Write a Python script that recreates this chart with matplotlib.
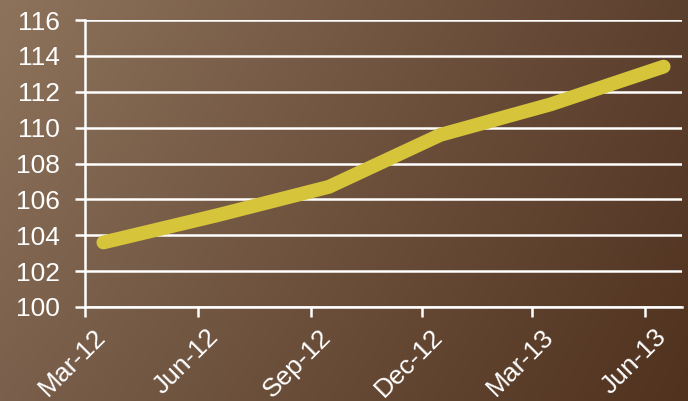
import numpy as np
import matplotlib.pyplot as plt
import matplotlib.dates as mdates
from matplotlib.transforms import ScaledTranslation
from datetime import date

# quarterly index values
dates = [date(2012, 3, 16), date(2012, 6, 16), date(2012, 9, 16),
         date(2012, 12, 16), date(2013, 3, 16), date(2013, 6, 16)]
values = [103.6, 105.1, 106.7, 109.6, 111.3, 113.4]
tick_dates = [date(2012, 3, 1), date(2012, 6, 1), date(2012, 9, 1),
              date(2012, 12, 1), date(2013, 3, 1), date(2013, 6, 1)]

plt.rcParams['font.family'] = ['Liberation Sans', 'DejaVu Sans']

fig = plt.figure(figsize=(6.88, 4.01), dpi=100)

# background gradient (bilinear between the four corners)
tl = np.array([142, 115, 92]) / 255
tr = np.array([92, 64, 46]) / 255
bl = np.array([122, 96, 76]) / 255
br = np.array([80, 50, 30]) / 255
u = np.linspace(0, 1, 200)[None, :, None]
v = np.linspace(0, 1, 120)[:, None, None]
grad = (1 - v) * ((1 - u) * tl + u * tr) + v * ((1 - u) * bl + u * br)
bg = fig.add_axes([0, 0, 1, 1], zorder=0)
bg.imshow(grad, aspect='auto', extent=[0, 1, 0, 1], interpolation='bilinear')
bg.axis('off')

ax = fig.add_axes([85 / 688, 1 - 307 / 401, (682 - 85) / 688, (307 - 20) / 401], zorder=1)
ax.patch.set_alpha(0)

ax.plot(dates, values, color='#D6C43A', lw=10, solid_capstyle='round',
        solid_joinstyle='round', zorder=3)

ax.set_ylim(100, 116)
ax.set_yticks(np.arange(100, 117, 2))
ax.set_xlim(date(2012, 3, 1), date(2013, 7, 1))
ax.set_xticks(tick_dates)
ax.xaxis.set_major_formatter(mdates.DateFormatter('%b-%y'))

ax.yaxis.grid(True, color='white', lw=1.8)
ax.set_axisbelow(True)
for s in ['top', 'right']:
    ax.spines[s].set_visible(False)
for s in ['left', 'bottom']:
    ax.spines[s].set_color('white')
    ax.spines[s].set_linewidth(1.8)

ax.tick_params(colors='white', labelsize=19, length=7, width=1.8, direction='out')
ax.tick_params(axis='y', pad=11)
ax.tick_params(axis='x', pad=12)
shift = ScaledTranslation(17 / 100, 0, fig.dpi_scale_trans)
for lab in ax.get_xticklabels():
    lab.set_rotation(45)
    lab.set_ha('right')
    lab.set_va('center')
    lab.set_rotation_mode('anchor')
    lab.set_transform(lab.get_transform() + shift)

fig.savefig('out.png', dpi=100)
